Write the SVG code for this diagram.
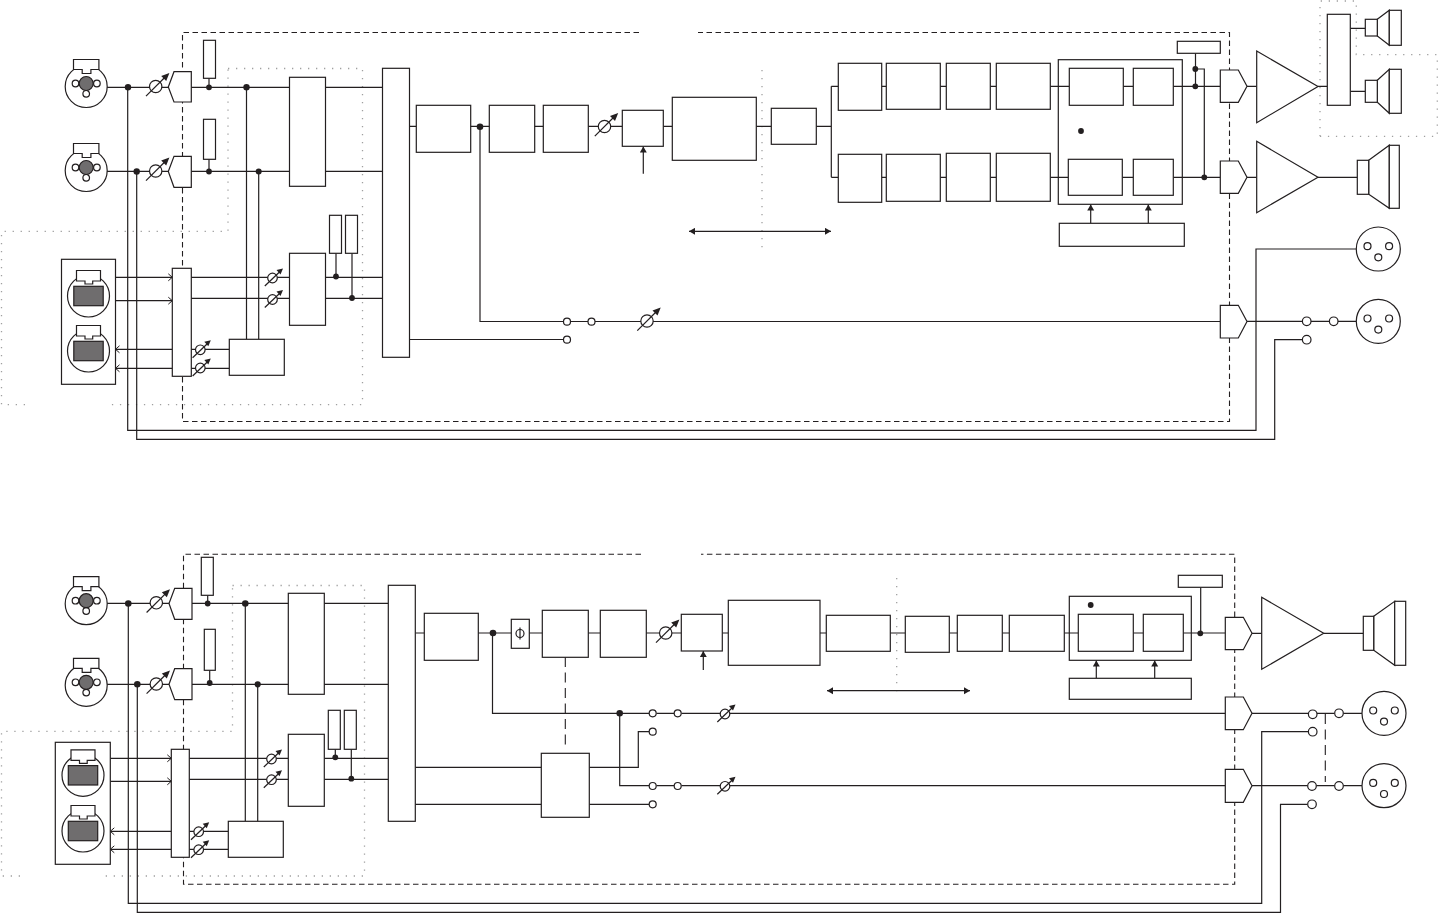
<svg xmlns="http://www.w3.org/2000/svg" width="1438" height="913" viewBox="0 0 1438 913">
<style>
.n rect,.n circle,.n path,.n polygon,.s{fill:#fff;stroke:#231f20;stroke-width:1.2}
.n line,.l{stroke:#231f20;stroke-width:1.2}
.g{fill:#6f6d6e;stroke:#231f20;stroke-width:1.2}
.n .k,.k,.dot{fill:#231f20;stroke:none}
.w{fill:none;stroke:#231f20;stroke-width:1.2}
.dash{fill:none;stroke:#231f20;stroke-width:1.1;stroke-dasharray:5.5 3.5}
.dash2{fill:none;stroke:#231f20;stroke-width:1.1;stroke-dasharray:10 5.5}
.dot-line{fill:none;stroke:#a0a0a0;stroke-width:1.3;stroke-dasharray:1.3 6.7}
.oe{marker-end:url(#open)}
.fe{marker-end:url(#fill)}
.fb{marker-start:url(#fillS);marker-end:url(#fill)}
</style>
<defs>
<marker id="open" markerUnits="userSpaceOnUse" markerWidth="8" markerHeight="10" refX="5" refY="5" orient="auto"><path d="M1 1.5L5 5L1 8.5" fill="none" stroke="#231f20" stroke-width="1"/></marker>
<marker id="fill" markerUnits="userSpaceOnUse" markerWidth="8" markerHeight="8" refX="6" refY="3.5" orient="auto"><path d="M0 0L6 3.5L0 7z" fill="#231f20"/></marker>
<marker id="fillS" markerUnits="userSpaceOnUse" markerWidth="8" markerHeight="8" refX="0" refY="3.5" orient="auto"><path d="M6 0L0 3.5L6 7z" fill="#231f20"/></marker>
<g id="potL"><circle class="s" r="6.2"/><line class="l" x1="-9.7" y1="9.7" x2="9.5" y2="-9.5"/><polygon class="k" points="13.7,-13.5 10.5,-5.5 5.5,-10.5"/></g>
<g id="potS"><circle class="s" r="4.8"/><line class="l" x1="-7.7" y1="8" x2="7" y2="-6"/><polygon class="k" points="10.5,-9.5 8,-3.5 4,-8"/></g>
<g id="xlrF"><circle class="s" cy="3" r="21"/><path class="s" d="M-12.7 -14V-24H12.7V-14H4.7V-10H-4V-14z"/><circle class="s" cx="-10.7" r="3.3"/><circle class="s" cx="10.7" r="3.3"/><circle class="s" cy="10.3" r="3.3"/><circle class="g" r="7"/></g>
<g id="xlrB"><circle class="s" r="21"/><path class="s" d="M-12 -15V-25.5H12V-15H4.2V-12H-3.5V-15z"/><rect class="g" x="-14.7" y="-9.7" width="29.4" height="19.4"/></g>
<g id="xlrM"><circle class="s" r="22"/><circle class="s" cx="-10.8" cy="-2.8" r="3.5"/><circle class="s" cx="10.8" cy="-2.8" r="3.5"/><circle class="s" cy="8.3" r="3.5"/></g>
</defs>

<g id="dotted-top">
<path class="dot-line" d="M228 68.5H362.5V404.7H110M25 404.7H1.5V231.3H228V68.5"/>
<path class="dot-line" d="M762 70V250"/>
<path class="dot-line" d="M1320 136.3V1H1356.3V54.6H1437.3V136.3H1320"/>
</g>
<g id="dotted-bottom">
<path class="dot-line" d="M232.5 585.5H364.5V876H105M20 876H1.5V731.3H232.5V585.5"/>
<path class="dot-line" d="M896.7 578V695"/>
</g>
<g id="frames">
<path class="dash" d="M639 32.5H182.5V421.5H1229.5V32.5H698"/>
<path class="dash" d="M641 554.3H183.5V884.3H1234.7V554.3H701"/>
<path class="dash2" d="M565.3 657V750M1325.3 714V782"/>
</g>

<g id="connectors">
<!-- top -->
<path class="w" d="M107 87.3H382.5M107 171.3H382.5M127.7 87.3V430.3H1256V249H1356M136.7 171.3V439.3H1274.7V339.7H1302"/>
<path class="w" d="M209 78.3V87.3M209 159.3V171.3M246.5 87.3V339.3M258.7 171.3V339.3"/>
<path class="w" d="M191 277.3H289.5M191 298.3H289.5M191 349.3H229.3M191 368.3H229.3M325.5 277.3H382.5M325.5 298.3H382.5M336 253.3V277.3M352 253.3V298.3"/>
<path class="w oe" d="M115.5 277.3H172.3"/><path class="w oe" d="M115.5 300.7H172.3"/>
<path class="w oe" d="M172.3 349.3H115.5"/><path class="w oe" d="M172.3 368.3H115.5"/>
<path class="w" d="M409.5 126.3H622.3M663.3 126.3H672.3M756.3 126.3H771.3M816.3 126.3H831.3M831.3 86.3V177.3M831.3 86.3H838.3M831.3 177.3H838.3"/>
<path class="w" d="M881.7 86.3H886.3M940.3 86.3H946.3M990.3 86.3H996.3M1050.3 86.3H1069.3M1123.3 86.3H1133.3M1173.3 86.3H1220.3M881.7 177.3H886.3M940.3 177.3H946.3M990.3 177.3H996.3M1050.3 177.3H1068.3M1122.3 177.3H1133.3M1173.3 177.3H1220.3"/>
<path class="w" d="M1195.5 53.3V86.3M1195.5 69H1204.3V177.3"/>
<path class="w" d="M480 126.5V321.5H563.5M570.5 321.5H588M595 321.5H1220.3M409.5 339.5H563.5"/>
<path class="w fe" d="M643.3 173.7V146.6"/>
<path class="w fb" d="M689 231.3H831"/>
<path class="w fe" d="M1090.7 223.3V204.5"/><path class="w fe" d="M1148.3 223.3V204.5"/>
<path class="w" d="M1247 86.3H1256.7M1247 177.3H1256.7M1318 86.3H1327.3M1350.3 28.3H1365.3M1350.3 91.3H1365.3M1318 177.3H1357.3"/>
<path class="w" d="M1247 321.3H1302.4M1311 321.3H1329.4M1338 321.3H1356"/>
<!-- bottom -->
<path class="w" d="M107 603.3H388.3M107 684.3H388.3M128.3 603.3V903.3H1261.7V731.7H1308M137.3 684.3V912.3H1280.5V804.3H1307.5"/>
<path class="w" d="M207.7 595.3V603.3M209.7 670.3V684.3M245.3 603.3V821.3M257.7 684.3V821.3"/>
<path class="w" d="M189.3 758.3H288.3M189.3 779.3H288.3M189.3 831.3H228.3M189.3 849.3H228.3M324.3 758.3H388.3M324.3 779.3H388.3M335.3 749.3V758.3M351.3 749.3V779.3"/>
<path class="w oe" d="M110.3 758.3H171.3"/><path class="w oe" d="M110.3 781.3H171.3"/>
<path class="w oe" d="M171.3 831.3H110.3"/><path class="w oe" d="M171.3 849.3H110.3"/>
<path class="w" d="M415.3 633H681.3M722.3 633H728.3M820 633H826.3M890.3 633H905.3M949.3 633H957.3M1002.3 633H1009.3M1064.3 633H1078.3M1133.3 633H1143.3M1183.3 633H1225.3"/>
<path class="w" d="M1200.7 587.3V633.3"/>
<path class="w fe" d="M703.3 670V651"/>
<path class="w fb" d="M827 690.7H970"/>
<path class="w fe" d="M1096.3 678.3V660.5"/><path class="w fe" d="M1154.7 678.3V660.5"/>
<path class="w" d="M492.5 633V713.3H649M656.5 713.3H674M681.5 713.3H1225.3M619.7 713.3V785.7H649M656.5 785.7H674M681.5 785.7H1225.3"/>
<path class="w" d="M415.3 767.3H541.3M415.3 804.3H541.3M589.3 767.3H638.3V731.7H649M589.3 804.3H649"/>
<path class="w" d="M1252 633.3H1261.7M1323.7 633.3H1363.3"/>
<path class="w" d="M1252 713.3H1308.4M1317 713.3H1334.7M1343.3 713.3H1362M1252 785.7H1307.7M1316.3 785.7H1334.7M1343.3 785.7H1362"/>
</g>

<g id="junctions">
<circle class="dot" cx="128" cy="87.3" r="3.2"/><circle class="dot" cx="136.7" cy="171.5" r="3.2"/>
<circle class="dot" cx="209" cy="87.3" r="2.9"/><circle class="dot" cx="209" cy="171.5" r="2.9"/>
<circle class="dot" cx="246.5" cy="87.3" r="3.2"/><circle class="dot" cx="258.7" cy="171.5" r="3"/>
<circle class="dot" cx="336" cy="276.5" r="2.9"/><circle class="dot" cx="352" cy="298" r="2.9"/>
<circle class="dot" cx="480" cy="126.7" r="3.3"/><circle class="dot" cx="1081" cy="131" r="2.9"/>
<circle class="dot" cx="1195.3" cy="69" r="2.9"/><circle class="dot" cx="1195.3" cy="86.3" r="2.9"/><circle class="dot" cx="1204.3" cy="177.3" r="2.9"/>
<circle class="dot" cx="128.3" cy="603.5" r="3.3"/><circle class="dot" cx="137.3" cy="684.3" r="3.3"/>
<circle class="dot" cx="207.7" cy="603.5" r="2.9"/><circle class="dot" cx="209.7" cy="683" r="2.9"/>
<circle class="dot" cx="245.3" cy="603.5" r="3.3"/><circle class="dot" cx="257.7" cy="684.3" r="3.1"/>
<circle class="dot" cx="335.3" cy="757.3" r="2.9"/><circle class="dot" cx="351.3" cy="778.7" r="2.9"/>
<circle class="dot" cx="493" cy="633" r="3.3"/><circle class="dot" cx="619.7" cy="713.3" r="3.3"/>
<circle class="dot" cx="1090.7" cy="605" r="2.9"/><circle class="dot" cx="1200.3" cy="633.3" r="2.9"/>
</g>

<!-- top chain nodes -->
<g id="t-inputs" class="n">
<use href="#xlrF" x="86.2" y="83.5"/><use href="#xlrF" x="86.2" y="167.5"/>
<use href="#potL" x="155.7" y="86.5"/><use href="#potL" x="155.7" y="171"/>
</g>
<g id="t-in-buffers" class="n">
<polygon points="168.3,87 174,71.7 191.3,71.7 191.3,102 174,102"/>
<polygon points="168.3,171.5 174,156.3 191.3,156.3 191.3,187.3 174,187.3"/>
</g>
<g id="t-phantom" class="n"><rect x="203.5" y="40.3" width="12" height="38"/><rect x="203.5" y="119.3" width="12" height="40"/></g>
<g id="t-mixer" class="n"><rect x="289.5" y="77.3" width="36" height="109"/></g>
<g id="t-aes-mixer" class="n"><rect x="289.5" y="253.3" width="36" height="72"/><rect x="329.5" y="215.3" width="12" height="38"/><rect x="345.5" y="215.3" width="12" height="38"/></g>
<g id="t-panel" class="n"><rect x="61.5" y="259.3" width="54" height="125"/><use href="#xlrB" x="88.5" y="296"/><use href="#xlrB" x="88.5" y="351"/></g>
<g id="t-bar" class="n"><rect x="172.3" y="268.3" width="19" height="108"/></g>
<g id="t-aes-pots" class="n"><use href="#potS" x="272.5" y="278"/><use href="#potS" x="272.5" y="299.5"/><use href="#potS" x="200.3" y="349.8"/><use href="#potS" x="200.3" y="368"/></g>
<g id="t-return" class="n"><rect x="229.3" y="339.3" width="55" height="36"/></g>
<g id="t-bus" class="n"><rect x="382.5" y="68.3" width="27" height="289"/></g>
<g id="t-chain" class="n">
<rect x="416.3" y="105.3" width="54.4" height="47"/><rect x="489.3" y="105.3" width="45.4" height="47"/><rect x="543.3" y="105.3" width="45" height="47"/>
<use href="#potL" x="604.5" y="126.5"/>
<rect x="622.3" y="110.3" width="41" height="36"/><rect x="672.3" y="97.3" width="84" height="63"/><rect x="771.3" y="108.3" width="45" height="36"/>
</g>
<g id="t-row-hi" class="n"><rect x="838.3" y="63.3" width="43.4" height="47"/><rect x="886.3" y="63.3" width="54" height="46"/><rect x="946.3" y="63.3" width="44" height="46"/><rect x="996.3" y="63.3" width="54" height="46"/></g>
<g id="t-row-lo" class="n"><rect x="838.3" y="154.3" width="43.4" height="48"/><rect x="886.3" y="154.3" width="54" height="47"/><rect x="946.3" y="153.3" width="44" height="48"/><rect x="996.3" y="153.3" width="54" height="48"/></g>
<g id="t-limiter" class="n">
<rect x="1058.3" y="59.7" width="124" height="144.6" style="fill:none"/>
<rect x="1069.3" y="68.3" width="54" height="37"/><rect x="1133.3" y="68.3" width="40" height="37"/><rect x="1068.3" y="159.3" width="54" height="36"/><rect x="1133.3" y="159.3" width="40" height="36"/>
<rect x="1059.3" y="223.3" width="125" height="23"/>
<rect x="1177.3" y="41.3" width="43" height="12"/>
</g>
<g id="t-outs" class="n">
<polygon points="1220.3,70 1238.3,70 1247,86.3 1238.3,102.3 1220.3,102.3"/>
<polygon points="1220.3,161 1238.3,161 1247,177.3 1238.3,193.3 1220.3,193.3"/>
<polygon points="1220.3,305.3 1238.3,305.3 1247,321.5 1238.3,338 1220.3,338"/>
</g>
<g id="t-amps" class="n">
<polygon points="1256.7,51 1318,86.5 1256.7,122.7"/><polygon points="1256.7,141.3 1318,177.3 1256.7,212.7"/>
<rect x="1327.3" y="14.3" width="23" height="91"/>
</g>
<g id="t-speakers" class="n">
<polygon points="1377.3,19.3 1389.3,10.3 1389.3,45.3 1377.3,36"/><rect x="1365.3" y="19.3" width="12" height="16.7"/><rect x="1389.3" y="10.3" width="12" height="35"/>
<polygon points="1377.3,80.3 1389.3,69.3 1389.3,113.3 1377.3,102.3"/><rect x="1365.3" y="80.3" width="12" height="22"/><rect x="1389.3" y="69.3" width="12" height="44"/>
<polygon points="1368.7,160.3 1389.3,145.3 1389.3,208.3 1368.7,194.3"/><rect x="1357.3" y="160.3" width="11.4" height="34"/><rect x="1389.3" y="145.3" width="10" height="63"/>
</g>
<g id="t-aux" class="n">
<circle cx="567" cy="321.7" r="3.5"/><circle cx="591.5" cy="321.7" r="3.5"/><circle cx="567" cy="339.7" r="3.5"/>
<use href="#potL" x="647" y="321"/>
<circle cx="1306.7" cy="321.3" r="4.3"/><circle cx="1333.7" cy="321.3" r="4.3"/><circle cx="1306.7" cy="339.7" r="4.3"/>
<use href="#xlrM" x="1378.3" y="249"/><use href="#xlrM" x="1378.3" y="321.3"/>
</g>

<!-- bottom chain nodes -->
<g id="b-inputs" class="n">
<use href="#xlrF" x="86.2" y="600.7"/><use href="#xlrF" x="86.2" y="682.3"/>
<use href="#potL" x="156.3" y="602.8"/><use href="#potL" x="156.3" y="684"/>
</g>
<g id="b-in-buffers" class="n">
<polygon points="169,603.5 174.7,588.3 192,588.3 192,619.3 174.7,619.3"/>
<polygon points="169,684.3 174.7,668.7 192,668.7 192,699.7 174.7,699.7"/>
</g>
<g id="b-phantom" class="n"><rect x="201.3" y="557.3" width="12" height="38"/><rect x="204.3" y="629.3" width="11" height="41"/></g>
<g id="b-mixer" class="n"><rect x="288.3" y="593.3" width="36" height="101"/></g>
<g id="b-aes-mixer" class="n"><rect x="288.3" y="734.3" width="36" height="72"/><rect x="328.3" y="710.3" width="12" height="39"/><rect x="344.3" y="710.3" width="12" height="39"/></g>
<g id="b-panel" class="n"><rect x="55.3" y="742.3" width="55" height="122"/><use href="#xlrB" x="83" y="775.3"/><use href="#xlrB" x="83" y="831"/></g>
<g id="b-bar" class="n"><rect x="171.3" y="749.3" width="18" height="108"/></g>
<g id="b-aes-pots" class="n"><use href="#potS" x="271.5" y="759"/><use href="#potS" x="271.5" y="779.7"/><use href="#potS" x="198.7" y="831.7"/><use href="#potS" x="198.7" y="849.7"/></g>
<g id="b-return" class="n"><rect x="228.3" y="821.3" width="55" height="36"/></g>
<g id="b-bus" class="n"><rect x="388.3" y="585.3" width="27" height="236"/></g>
<g id="b-chain" class="n">
<rect x="424.3" y="613.3" width="54" height="47"/>
<rect x="511.3" y="619.3" width="18" height="29"/><circle cx="520" cy="633.5" r="4"/><line x1="520" y1="627.5" x2="520" y2="639.5"/>
<rect x="542.3" y="610.3" width="46" height="47"/><rect x="600.3" y="610.3" width="46" height="47"/>
<use href="#potL" x="665.7" y="633"/>
<rect x="681.3" y="614.3" width="41" height="36.7"/><rect x="728.3" y="600.3" width="91.7" height="65"/>
<rect x="826.3" y="615.3" width="64" height="36"/><rect x="905.3" y="616.3" width="44" height="36"/><rect x="957.3" y="615.3" width="45" height="36"/><rect x="1009.3" y="615.3" width="55" height="36"/>
</g>
<g id="b-limiter" class="n">
<rect x="1069.3" y="596.3" width="122" height="64" style="fill:none"/>
<rect x="1078.3" y="614.3" width="55" height="37"/><rect x="1143.3" y="614.3" width="40" height="37"/>
<rect x="1069.3" y="678.3" width="122" height="21"/>
<rect x="1178.3" y="575.3" width="44" height="12"/>
</g>
<g id="b-dsp2" class="n"><rect x="541.3" y="753.3" width="48" height="64"/></g>
<g id="b-aux" class="n">
<circle cx="652.7" cy="713.3" r="3.5"/><circle cx="677.7" cy="713.3" r="3.5"/><circle cx="652.7" cy="731.7" r="3.5"/>
<circle cx="652.7" cy="786" r="3.5"/><circle cx="677.7" cy="786" r="3.5"/><circle cx="652.7" cy="804.3" r="3.5"/>
<use href="#potS" x="725" y="714"/><use href="#potS" x="725" y="786.3"/>
<circle cx="1312.7" cy="714.3" r="4.3"/><circle cx="1339" cy="713.3" r="4.3"/><circle cx="1312.7" cy="731.7" r="4.3"/>
<circle cx="1312" cy="786" r="4.3"/><circle cx="1339" cy="786" r="4.3"/><circle cx="1312" cy="804.3" r="4.3"/>
<use href="#xlrM" x="1384" y="713.3"/><use href="#xlrM" x="1384" y="785.7"/>
</g>
<g id="b-outs" class="n">
<polygon points="1225.3,617.3 1243.3,617.3 1252,633.3 1243.3,649.7 1225.3,649.7"/>
<polygon points="1225.3,697 1243.3,697 1252,713.3 1243.3,729.7 1225.3,729.7"/>
<polygon points="1225.3,769.3 1243.3,769.3 1252,785.7 1243.3,802.3 1225.3,802.3"/>
</g>
<g id="b-amp" class="n">
<polygon points="1261.7,597.3 1323.7,633.3 1261.7,669.3"/>
<polygon points="1373.7,616.3 1394.7,601.3 1394.7,665.3 1373.7,650.3"/><rect x="1363.3" y="616.3" width="10.4" height="34"/><rect x="1394.7" y="601.3" width="11" height="64"/>
</g>
</svg>
